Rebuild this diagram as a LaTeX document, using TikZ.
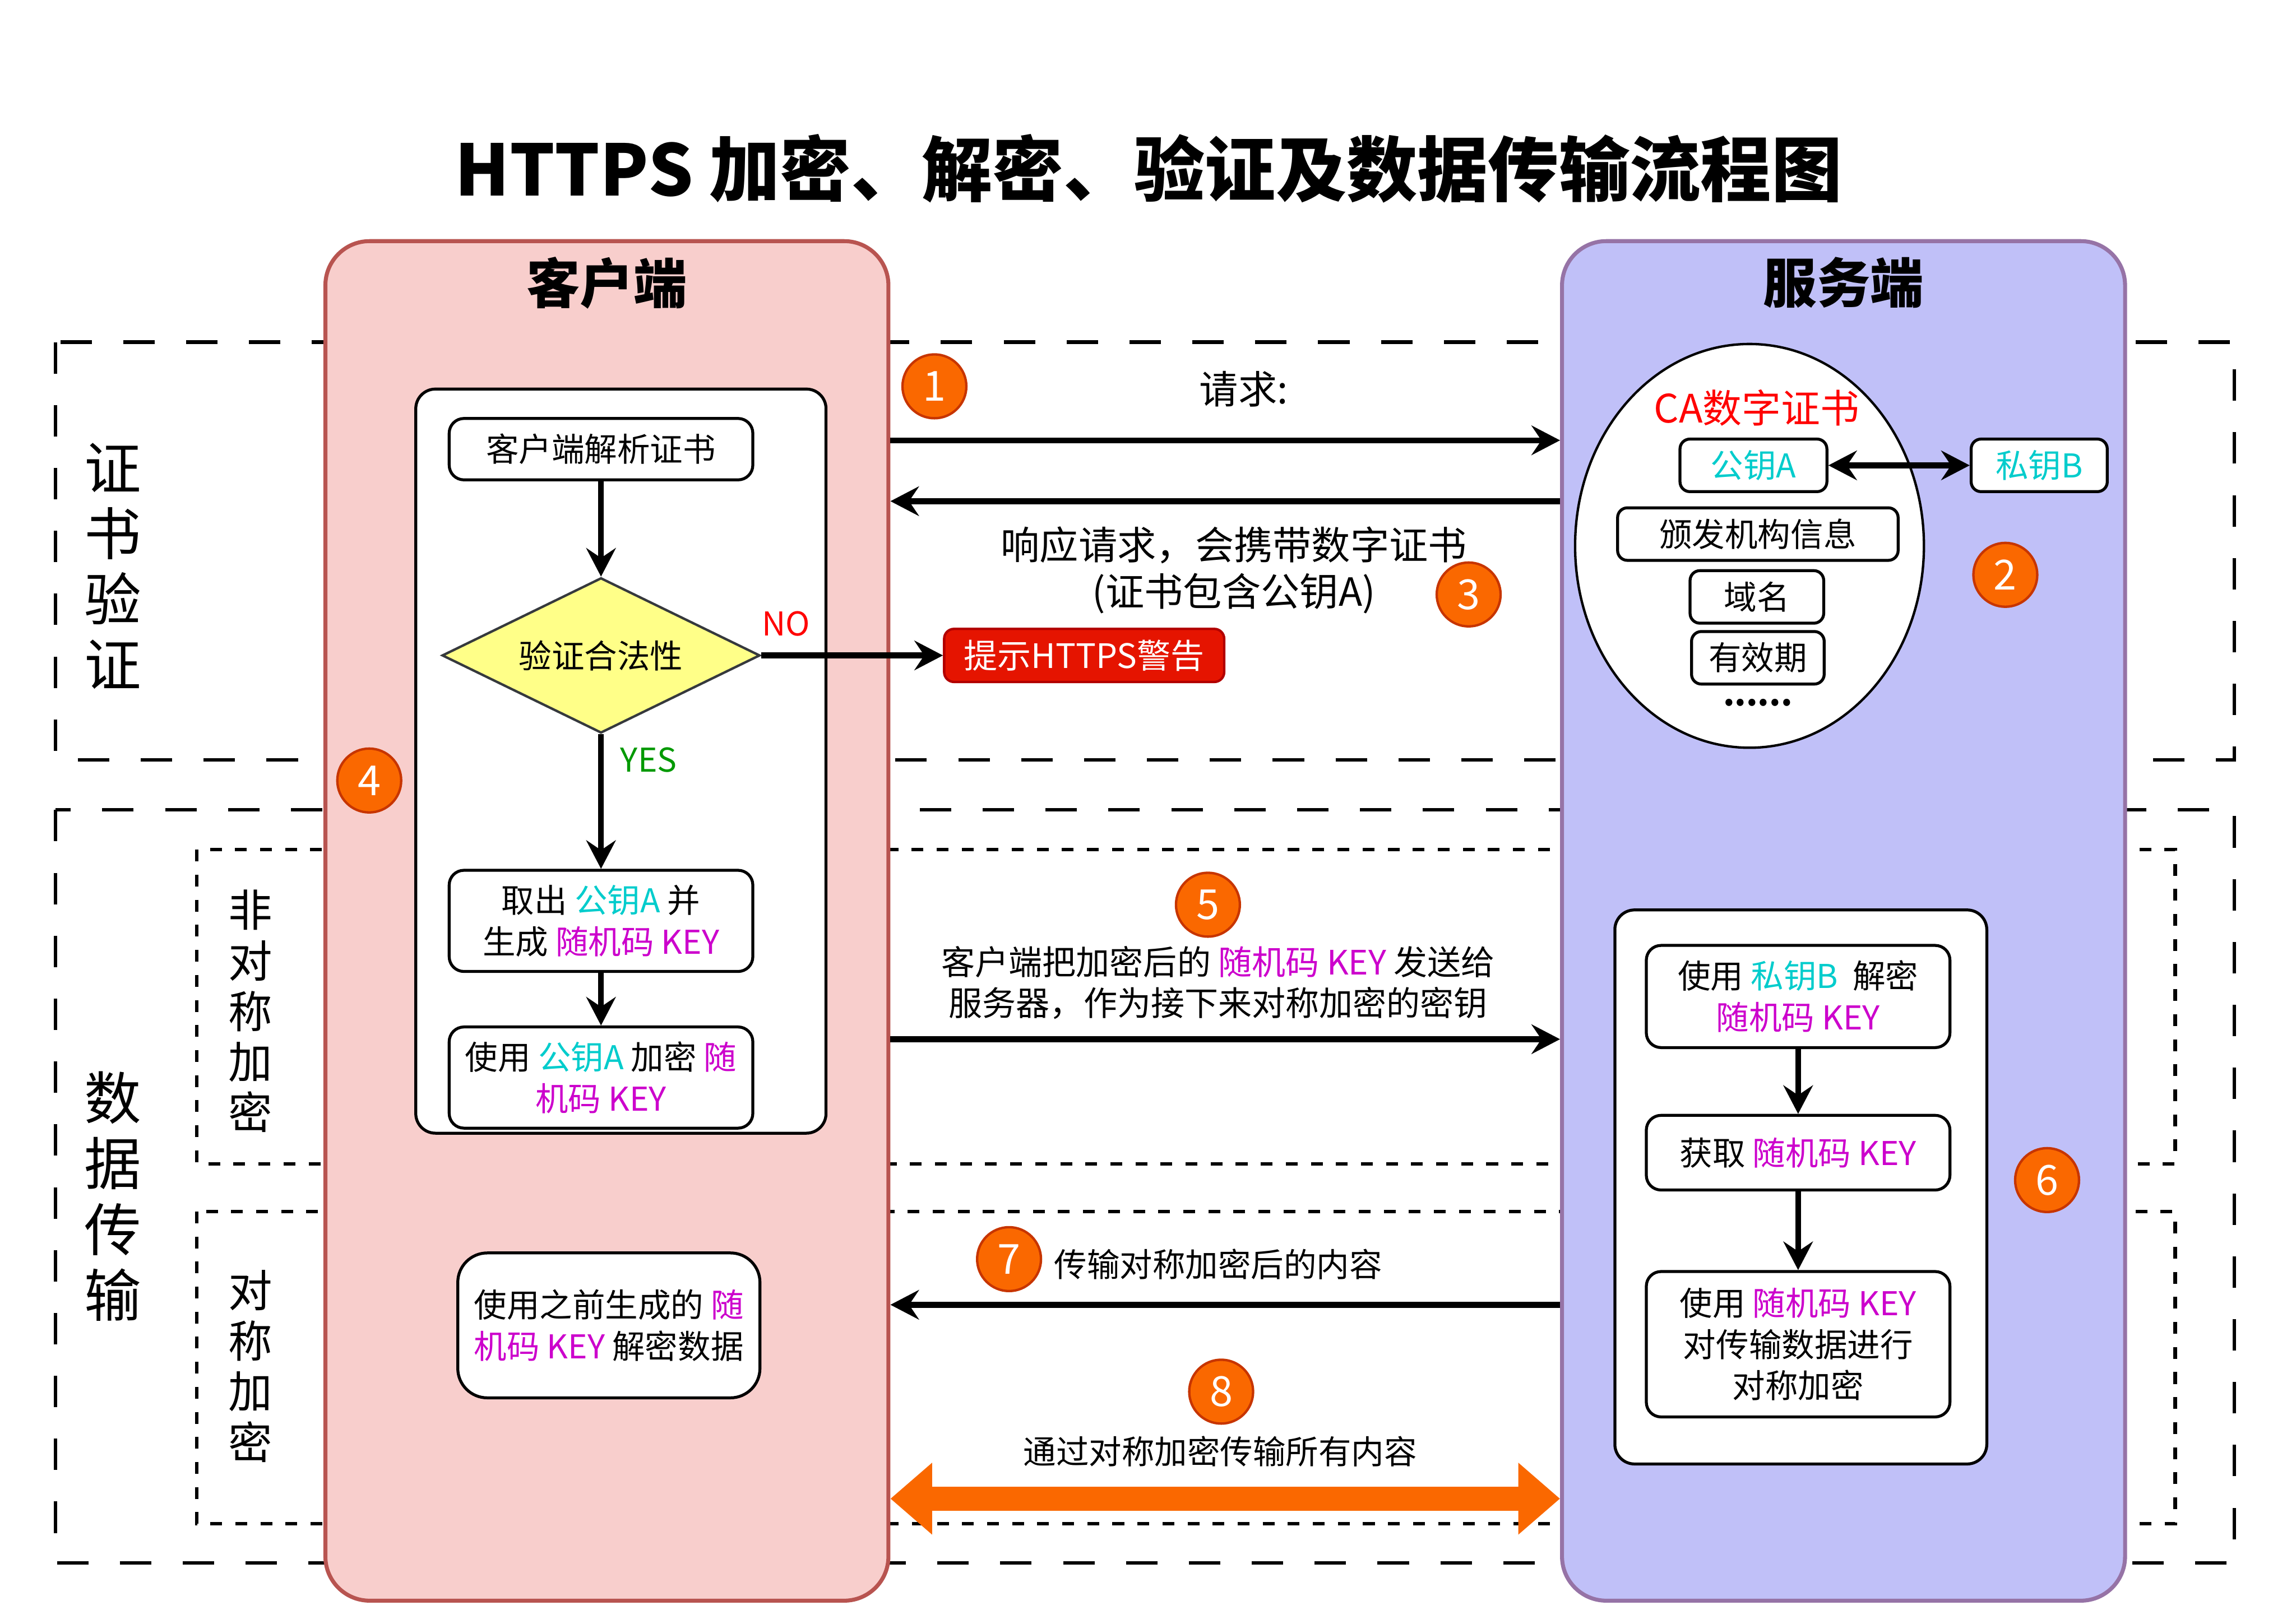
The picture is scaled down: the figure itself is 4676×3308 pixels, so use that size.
\documentclass[tikz,border=0pt]{standalone}
\usepackage{fontspec}
\setmainfont{Noto Sans CJK SC}
\usetikzlibrary{arrows.meta,positioning,shapes.geometric}
\definecolor{ClientFill}{HTML}{F8CECC}
\definecolor{ClientLine}{HTML}{B85450}
\definecolor{ServerFill}{HTML}{C0C0F8}
\definecolor{ServerLine}{HTML}{9673A6}
\definecolor{Badge}{HTML}{FA6800}
\definecolor{BadgeLine}{HTML}{C73500}
\definecolor{KeyCyan}{HTML}{00CCCC}
\definecolor{KeyMagenta}{HTML}{CC00CC}
\definecolor{Warn}{HTML}{E51400}
\definecolor{WarnLine}{HTML}{B20000}
\definecolor{Check}{HTML}{FFFF88}
\definecolor{CheckLine}{HTML}{36393D}
\definecolor{YesGreen}{HTML}{009900}
\newcommand\boxsize{\fontsize{19pt}{24pt}\selectfont}
\newcommand\pubkey{\textcolor{KeyCyan}{公钥A}}
\newcommand\privkey{\textcolor{KeyCyan}{私钥B}}
\newcommand\randkey{\textcolor{KeyMagenta}{随机码 KEY}}

\begin{document}
\begin{tikzpicture}[x=0.01cm, y=-0.01cm,
    zone/.style={line width=2pt, dash pattern=on 6.4mm off 6.4mm},
    subzone/.style={line width=2pt, dash pattern=on 2.4mm off 2.7mm},
    side/.style={align=center, inner sep=0pt, font=\fontsize{33pt}{38pt}\selectfont},
    subside/.style={align=center, inner sep=0pt, font=\fontsize{25.5pt}{29.3pt}\selectfont},
    lane/.style={rounded corners=0.9cm, line width=2.3pt, minimum width=11.46cm, minimum height=27.68cm},
    lanehead/.style={font=\fontsize{31pt}{36pt}\selectfont\bfseries},
    panel/.style={draw, fill=white, rounded corners=0.4cm, line width=1.7pt},
    stepbox/.style={draw, fill=white, rounded corners=0.3cm, line width=1.7pt, align=center,
      inner sep=0pt, minimum width=6.18cm, font=\boxsize},
    infobox/.style={stepbox, rounded corners=0.2cm, minimum height=1.07cm},
    keybox/.style={infobox, text=KeyCyan},
    check/.style={diamond, aspect=2.05, draw=CheckLine, fill=Check, line width=1.4pt, minimum width=6.47cm,
      minimum height=3.16cm, inner sep=0pt, font=\boxsize},
    warn/.style={draw=WarnLine, fill=Warn, text=white, rounded corners=0.2cm, line width=1.4pt,
      minimum width=5.7cm, minimum height=1.08cm, inner sep=0pt, font=\fontsize{19.5pt}{24pt}\selectfont},
    cert/.style={ellipse, draw, fill=white, line width=1.4pt, minimum width=7.1cm, minimum height=8.22cm},
    badge/.style={circle, draw=BadgeLine, fill=Badge, line width=1.4pt, minimum size=1.3cm, inner sep=0pt,
      text=white, font=\fontsize{24pt}{28pt}\selectfont},
    arrow/.style={-{Stealth[length=5.8mm, width=6mm, inset=2mm]}, line width=3.4pt},
    twoway/.style={{Stealth[length=5.8mm, width=6mm, inset=2mm]}-{Stealth[length=5.8mm, width=6mm, inset=2mm]}, line width=3.4pt},
    bulk/.style={{Triangle[length=8.5mm, width=14.1mm]}-{Triangle[length=8.5mm, width=14.1mm]}, line width=4.9mm, draw=Badge}
  ]
  \useasboundingbox (0,0) rectangle (4676,3308);
  \node[font=\fontsize{41pt}{46pt}\selectfont\bfseries] (title) at (2339,343) {HTTPS 加密、解密、验证及数据传输流程图};

  % zones
  \draw[zone] (113,697) rectangle (4550,1548);
  \draw[zone] (113,1650) rectangle (4550,3184);
  \draw[subzone] (401,1731) rectangle (4430,2371);
  \draw[subzone] (401,2468) rectangle (4430,3104);
  \node[side] (zcert) at (230,1153) {证\\书\\验\\证};
  \node[side] (zdata) at (230,2437) {数\\据\\传\\输};
  \node[subside] (zasym) at (510,2060) {非\\对\\称\\加\\密};
  \node[subside] (zsym) at (510,2783) {对\\称\\加\\密};

  % lanes
  \node[lane, draw=ClientLine, fill=ClientFill] (cli) at (1236,1876) {};
  \node[lane, draw=ServerLine, fill=ServerFill] (srv) at (3754.5,1876) {};
  \node[lanehead] (clihead) at ([yshift=-0.89cm]cli.north) {客户端};
  \node[lanehead] (srvhead) at ([yshift=-0.89cm]srv.north) {服务端};

  % client
  \node[panel, minimum width=8.35cm, minimum height=15.15cm] (clipanel) at (1264.5,1550.5) {};
  \node[stepbox, minimum height=1.25cm] (parse) at (1224,915) {客户端解析证书};
  \node[check, below=1.94cm of parse] (valid) {验证合法性};
  \node[stepbox, minimum height=2.06cm, below=2.74cm of valid] (take) {取出 \pubkey{} 并\\生成 \randkey};
  \node[stepbox, minimum height=2.06cm, below=1.07cm of take] (encrypt) {使用 \pubkey{} 加密 \textcolor{KeyMagenta}{随}\\\textcolor{KeyMagenta}{机码 KEY}};
  \node[stepbox, minimum width=6.15cm, minimum height=2.95cm, rounded corners=0.6cm] (decrypt) at (1240,2700)
    {使用之前生成的 \textcolor{KeyMagenta}{随}\\\textcolor{KeyMagenta}{机码 KEY} 解密数据};
  \node[warn, right=3.7cm of valid] (warn) {提示HTTPS警告};
  \node[font=\boxsize, text=red] (nolbl) at (1601,1271) {NO};
  \node[font=\boxsize, text=YesGreen] (yeslbl) at (1321,1548) {YES};

  % server
  \node[cert] (ca) at (3563,1112) {};
  \node[text=red, font=\fontsize{22.7pt}{27pt}\selectfont] (catitle) at (3578,831) {CA数字证书};
  \node[keybox, minimum width=2.99cm] (pub) at (3571,948) {公钥A};
  \node[keybox, minimum width=2.77cm] (priv) at (4153,948) {私钥B};
  \node[infobox, minimum width=5.71cm] (issuer) at (3580,1088) {颁发机构信息};
  \node[infobox, minimum width=2.72cm] (domain) at (3578,1216) {域名};
  \node[infobox, minimum width=2.70cm] (expiry) at (3580,1340) {有效期};
  \node[font=\boxsize\bfseries] (more) at (3580,1431) {......};
  \node[panel, minimum width=7.57cm, minimum height=11.28cm] (srvpanel) at (3667.5,2418) {};
  \node[stepbox, minimum height=2.08cm] (usepriv) at (3662,2030) {使用 \privkey~~解密\\\randkey};
  \node[stepbox, minimum height=1.52cm, below=1.32cm of usepriv] (getkey) {获取 \randkey};
  \node[stepbox, minimum height=2.96cm, below=1.6cm of getkey] (symenc) {使用 \randkey\\对传输数据进行\\对称加密};

  % message labels
  \node[font=\fontsize{22.5pt}{27pt}\selectfont] (reqlbl) at (2533,792) {请求:};
  \node[align=center, font=\fontsize{22.5pt}{27pt}\selectfont] (resplbl) at (2513,1161) {响应请求，会携带数字证书\\(证书包含公钥A)};
  \node[align=center, font=\fontsize{19.5pt}{23.6pt}\selectfont] (sendlbl) at (2481,2002) {客户端把加密后的 \randkey{} 发送给\\服务器，作为接下来对称加密的密钥};
  \node[font=\boxsize] (translbl) at (2481,2576) {传输对称加密后的内容};
  \node[font=\boxsize] (alllbl) at (2485,2957) {通过对称加密传输所有内容};

  \coordinate (row1) at (0,897);
  \coordinate (row2) at (0,1021);
  \coordinate (row5) at (0,2117);
  \coordinate (row7) at (0,2658);
  \coordinate (row8) at (0,3053);

  \draw[arrow] (cli.east |- row1) -- (srv.west |- row1);
  \draw[arrow] (srv.west |- row2) -- (cli.east |- row2);
  \draw[arrow] (parse) -- (valid);
  \draw[arrow] (valid) -- (warn);
  \draw[arrow] (valid) -- (take);
  \draw[arrow] (take) -- (encrypt);
  \draw[arrow] (cli.east |- row5) -- (srv.west |- row5);
  \draw[arrow] (srv.west |- row7) -- (cli.east |- row7);
  \draw[bulk] (cli.east |- row8) -- (srv.west |- row8);
  \draw[twoway] (pub) -- (priv);
  \draw[arrow] (usepriv) -- (getkey);
  \draw[arrow] (getkey) -- (symenc);

  \foreach \n/\x/\y in {1/1903/787, 2/4084/1171, 3/2991/1211, 4/752/1590,
                        5/2460/1843, 6/4169/2404, 7/2055/2565, 8/2487/2835}
    \node[badge] (step\n) at (\x,\y) {\n};
\end{tikzpicture}
\end{document}
